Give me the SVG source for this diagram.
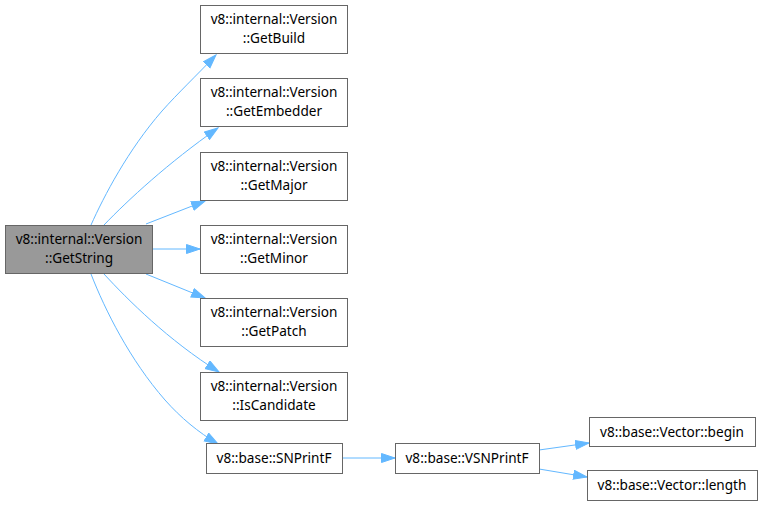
<svg xmlns="http://www.w3.org/2000/svg" width="763" height="506" viewBox="0 0 763 506">
<style>
.n{fill:#fff;stroke:#666;stroke-width:1}
.m{fill:#999;stroke:#666;stroke-width:1}
text{font-family:"Noto Sans","DejaVu Sans",sans-serif;font-size:13.6px;fill:#000;text-anchor:middle}
.e{fill:none;stroke:#63b8ff;stroke-width:1;marker-end:url(#a)}
</style>
<defs>
<marker id="a" markerUnits="userSpaceOnUse" markerWidth="15" markerHeight="11" refX="14" refY="5" orient="auto" viewBox="0 0 15 11">
<path d="M0.5,0.5 L14,5 L0.5,9.5 z" fill="#63b8ff" stroke="#63b8ff"/>
</marker>
</defs>
<rect width="763" height="506" fill="#fff"/>
<g id="edges">
<path class="e" d="M91,225 C104,196 128,150 162,111 C178,93 196,76 216,55"/>
<path class="e" d="M104,225 C128,200 168,163 218,128"/>
<path class="e" d="M146,224 L205,201"/>
<path class="e" d="M152,249 L200,249"/>
<path class="e" d="M146,274 L205,298"/>
<path class="e" d="M104,274 C128,300 168,340 219,372"/>
<path class="e" d="M91,274 C105,310 130,360 165,400 C181,418 198,432 218,444"/>
<path class="e" d="M342,458 L395,458"/>
<path class="e" d="M539,450 L589,443"/>
<path class="e" d="M539,469 L587,477"/>
</g>
<g id="n0"><rect class="m" x="5.5" y="225.5" width="147" height="48"/><text x="79" y="244">v8::internal::Version</text><text x="79" y="263">::GetString</text></g>
<g id="n1"><rect class="n" x="200.5" y="5.5" width="147" height="48"/><text x="274" y="24">v8::internal::Version</text><text x="274" y="43">::GetBuild</text></g>
<g id="n2"><rect class="n" x="200.5" y="78.5" width="147" height="48"/><text x="274" y="97">v8::internal::Version</text><text x="274" y="116">::GetEmbedder</text></g>
<g id="n3"><rect class="n" x="200.5" y="152.5" width="147" height="48"/><text x="274" y="171">v8::internal::Version</text><text x="274" y="190">::GetMajor</text></g>
<g id="n4"><rect class="n" x="200.5" y="225.5" width="147" height="48"/><text x="274" y="244">v8::internal::Version</text><text x="274" y="263">::GetMinor</text></g>
<g id="n5"><rect class="n" x="200.5" y="298.5" width="147" height="48"/><text x="274" y="317">v8::internal::Version</text><text x="274" y="336">::GetPatch</text></g>
<g id="n6"><rect class="n" x="200.5" y="372.5" width="147" height="48"/><text x="274" y="391">v8::internal::Version</text><text x="274" y="410">::IsCandidate</text></g>
<g id="n7"><rect class="n" x="206.5" y="443.5" width="136" height="30"/><text x="274" y="463">v8::base::SNPrintF</text></g>
<g id="n8"><rect class="n" x="395.5" y="443.5" width="144" height="30"/><text x="467" y="463">v8::base::VSNPrintF</text></g>
<g id="n9"><rect class="n" x="589.5" y="417.5" width="166" height="29"/><text x="672" y="437">v8::base::Vector::begin</text></g>
<g id="n10"><rect class="n" x="587.5" y="470.5" width="170" height="30"/><text x="672" y="490">v8::base::Vector::length</text></g>
</svg>
